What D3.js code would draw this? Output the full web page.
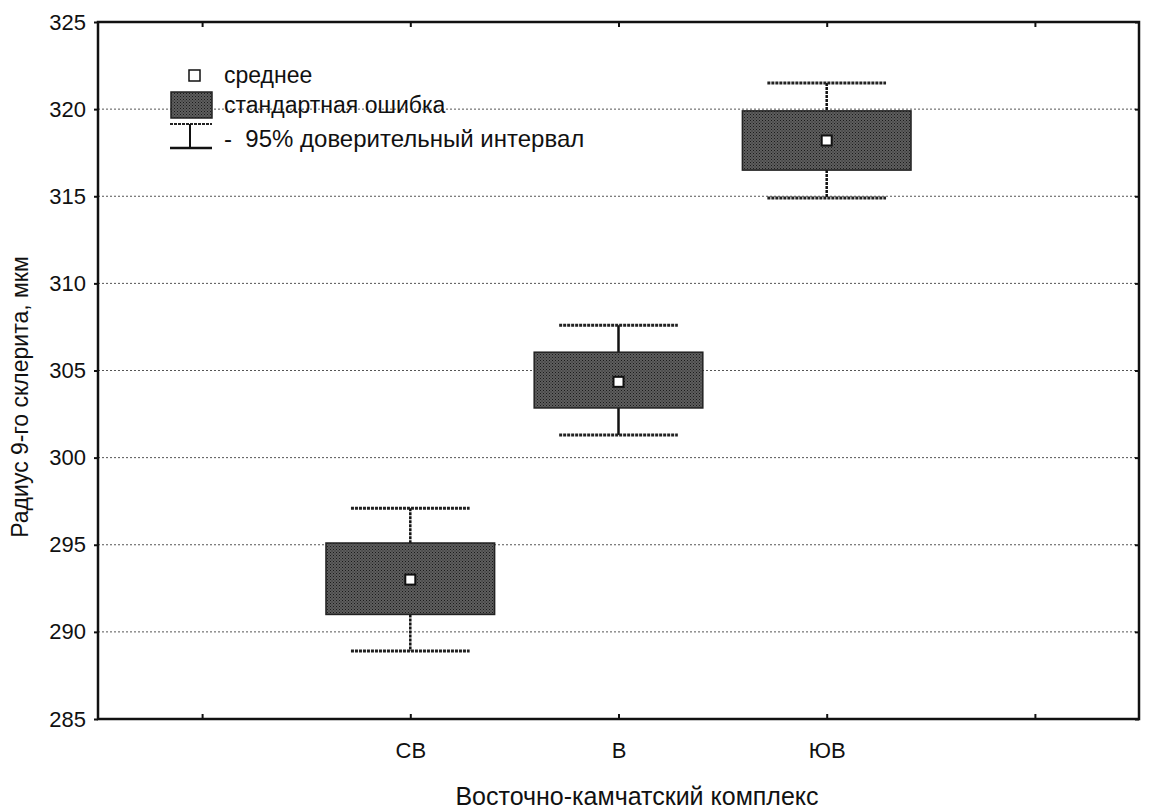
<!DOCTYPE html>
<html><head><meta charset="utf-8">
<script src="https://cdn.jsdelivr.net/npm/d3@7"></script>
<style>body{margin:0;background:#fff}text{font-family:"Liberation Sans",Arial,sans-serif;fill:#111}</style>
</head><body><svg id="c" width="1150" height="809"></svg>
<script>
const slots = ["p0","СВ","В","ЮВ","p4"];
const categories = ["СВ","В","ЮВ"];
const means = [293.0, 304.35, 318.2];
const seLow = [291.0, 302.85, 316.5];
const seHigh = [295.1, 306.05, 319.9];
const ciLow = [288.9, 301.3, 314.9];
const ciHigh = [297.1, 307.6, 321.5];
const yTicks = [285,290,295,300,305,310,315,320,325];
const legendLabels = ["среднее","стандартная ошибка","-  95% доверительный интервал"];

const svg = d3.select("#c");
const L=98,R=1139,T=22,B=719;
const x = d3.scalePoint().domain(slots).range([L,R]).padding(0.5);
const y = d3.scaleLinear().domain([285,325]).range([B,T]);
const step = x.step();

const defs = svg.append("defs");
const pat = defs.append("pattern").attr("id","stip").attr("patternUnits","userSpaceOnUse").attr("width",3).attr("height",3);
pat.append("rect").attr("width",3).attr("height",3).attr("fill","#5e5e5e");
pat.append("rect").attr("width",1).attr("height",1).attr("fill","#1a1a1a");
pat.append("rect").attr("x",1.5).attr("y",1.5).attr("width",1).attr("height",1).attr("fill","#262626");

// gridlines
svg.append("g").selectAll("line").data(yTicks.filter(d=>d>285&&d<325)).join("line")
  .attr("x1",L).attr("x2",R).attr("y1",d=>y(d)).attr("y2",d=>y(d))
  .attr("stroke","#555").attr("stroke-width",1).attr("stroke-dasharray","2,2");

// axes
const fmtX = d => categories.includes(d) ? d : "";
const gL = svg.append("g").attr("transform",`translate(${L},0)`).call(d3.axisLeft(y).tickValues(yTicks).tickSize(4).tickPadding(8));
const gR = svg.append("g").attr("transform",`translate(${R},0)`).call(d3.axisLeft(y).tickValues(yTicks).tickSize(4).tickFormat(""));
const gB = svg.append("g").attr("transform",`translate(0,${B})`).call(d3.axisTop(x).tickSize(5).tickFormat(""));
const gBl = svg.append("g").attr("transform",`translate(0,${B})`).call(d3.axisBottom(x).tickSize(0).tickPadding(23).tickFormat(fmtX));
const gT = svg.append("g").attr("transform",`translate(0,${T})`).call(d3.axisBottom(x).tickSize(5).tickFormat(""));
[gL,gR,gB,gBl,gT].forEach(g=>{g.select(".domain").remove();g.selectAll("line").attr("stroke","#111").attr("stroke-width",2);});
gL.selectAll("text").attr("font-size",22).style("font-family","Liberation Sans, Arial, sans-serif").attr("fill","#111");
gBl.selectAll("text").attr("font-size",22).style("font-family","Liberation Sans, Arial, sans-serif").attr("fill","#111");
svg.append("rect").attr("x",L).attr("y",T).attr("width",R-L).attr("height",B-T).attr("fill","none").attr("stroke","#111").attr("stroke-width",2.5);

// data marks
const g = svg.append("g");
const boxW = step*0.81, capW = step*0.57;
categories.forEach((c,i)=>{
  const cx = x(c);
  g.append("line").attr("x1",cx).attr("x2",cx).attr("y1",y(ciHigh[i])).attr("y2",y(seHigh[i])).attr("stroke","#111").attr("stroke-width",2.5).attr("stroke-dasharray",i===1?null:"3,1");
  g.append("line").attr("x1",cx).attr("x2",cx).attr("y1",y(seLow[i])).attr("y2",y(ciLow[i])).attr("stroke","#111").attr("stroke-width",2.5).attr("stroke-dasharray",i===1?null:"3,1");
  [ciHigh[i],ciLow[i]].forEach(v=>g.append("line").attr("x1",cx-capW/2).attr("x2",cx+capW/2).attr("y1",y(v)).attr("y2",y(v)).attr("stroke","#222").attr("stroke-width",3).attr("stroke-dasharray","3,1"));
  g.append("rect").attr("x",cx-boxW/2).attr("y",y(seHigh[i])).attr("width",boxW).attr("height",y(seLow[i])-y(seHigh[i]))
    .attr("fill","url(#stip)").attr("stroke","#222").attr("stroke-width",1.5);
  g.append("rect").attr("x",cx-5).attr("y",y(means[i])-5).attr("width",10).attr("height",10).attr("fill","#fff").attr("stroke","#111").attr("stroke-width",2);
});

// legend
const lg = svg.append("g");
lg.append("rect").attr("x",189).attr("y",70).attr("width",11).attr("height",11).attr("fill","#fff").attr("stroke","#111").attr("stroke-width",1.5);
lg.append("rect").attr("x",171).attr("y",92).attr("width",41).attr("height",26).attr("fill","url(#stip)").attr("stroke","#222").attr("stroke-width",1.5);
lg.append("line").attr("x1",170).attr("x2",212).attr("y1",124).attr("y2",124).attr("stroke","#222").attr("stroke-width",2).attr("stroke-dasharray","3,1");
lg.append("line").attr("x1",190).attr("x2",190).attr("y1",124).attr("y2",148).attr("stroke","#111").attr("stroke-width",2);
lg.append("line").attr("x1",170).attr("x2",212).attr("y1",148).attr("y2",148).attr("stroke","#111").attr("stroke-width",2.5);
lg.selectAll("text").data(legendLabels).join("text").attr("x",224).attr("y",(d,i)=>[83,113,147][i])
  .attr("font-size",(d,i)=>i===2?24:23).style("white-space","pre").text(d=>d);

// axis titles
svg.append("text").attr("x",637).attr("y",805).attr("text-anchor","middle").attr("font-size",25).text("Восточно-камчатский комплекс");
svg.append("text").attr("transform","translate(28,397) rotate(-90)").attr("text-anchor","middle").attr("font-size",23).text("Радиус 9-го склерита, мкм");
</script></body></html>
